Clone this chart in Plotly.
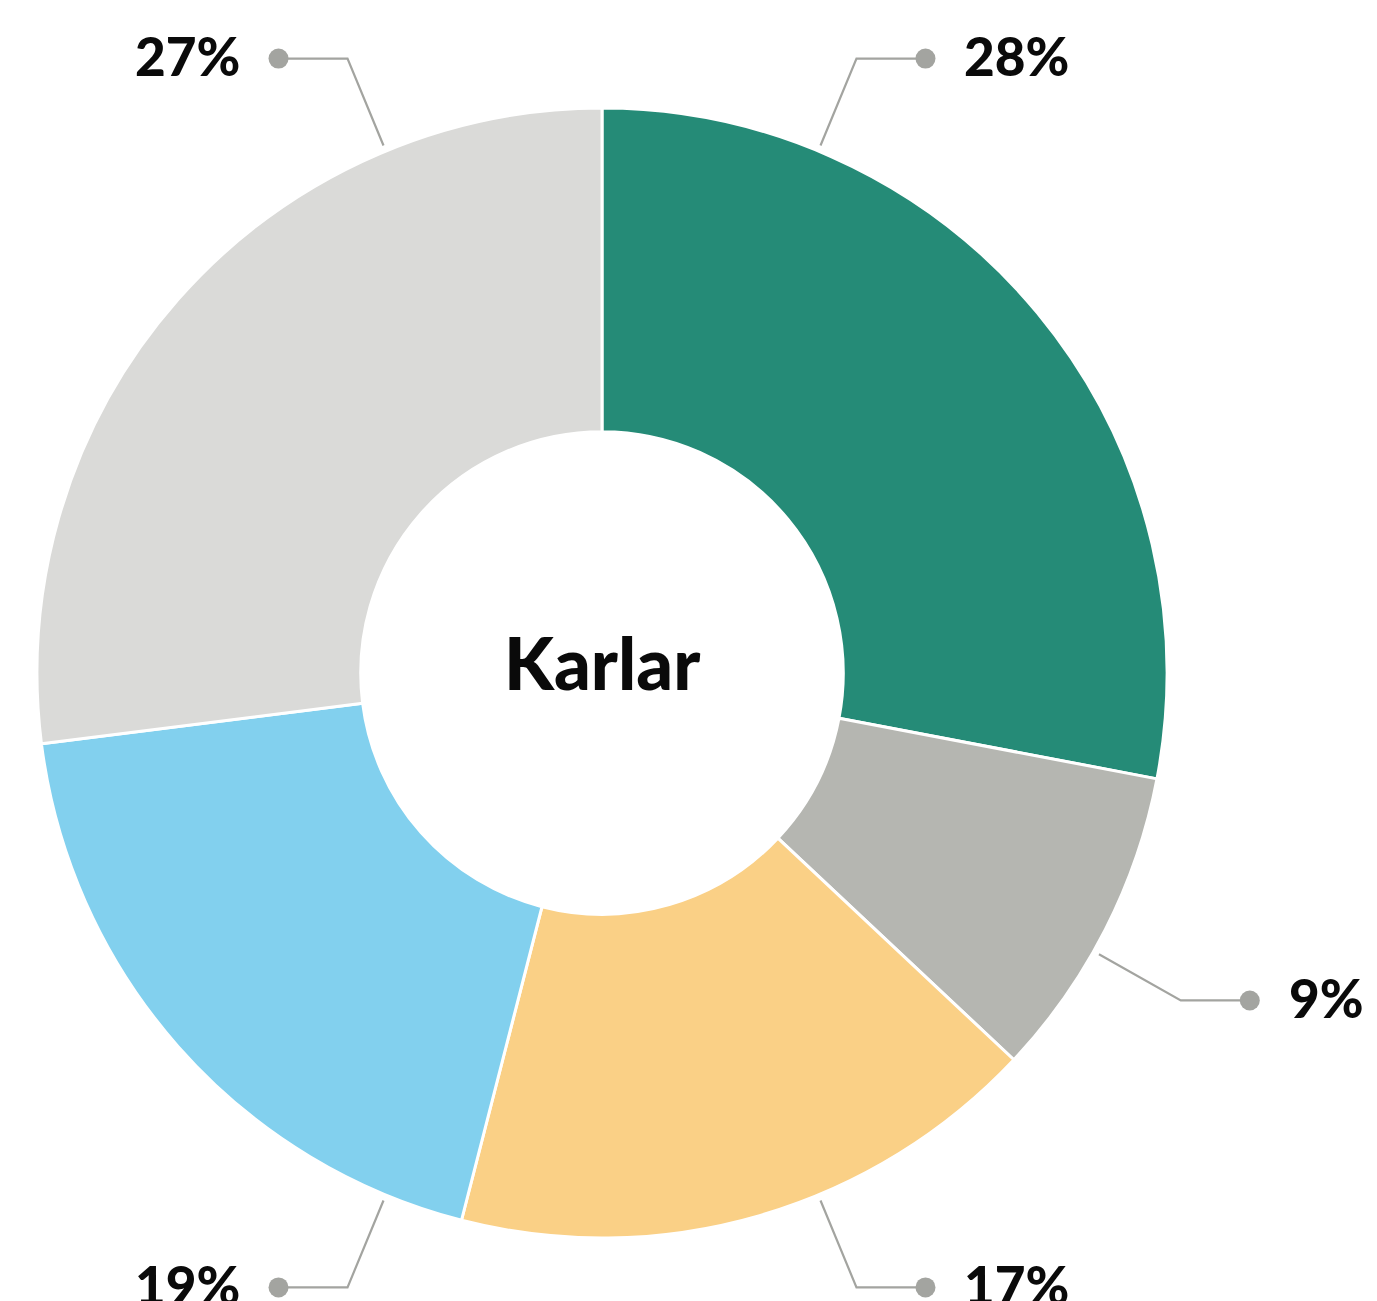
import math
import plotly.graph_objects as go

# ---- data ----
categories = ["A", "B", "C", "D", "E"]
values = [28, 9, 17, 19, 27]
value_labels = ["28%", "9%", "17%", "19%", "27%"]
center_label = "Karlar"

# ---- style ----
colors = ["#258B77", "#B5B6B1", "#FAD086", "#82D0EE", "#DADAD8"]
leader_angles = [22.5, 119.5, 157.5, 202.5, 337.5]  # degrees clockwise from 12 o'clock
W, H = 1377, 1301
CX, CY, R = 602, 673, 565
R0, R1, HLEN, GAP = 571, 665, 69, 37
FONT = "Lato"

fig = go.Figure()
fig.add_trace(go.Pie(
    labels=categories, values=values, sort=False, direction="clockwise",
    rotation=0, hole=0.427, textinfo="none", hoverinfo="label+percent",
    marker=dict(colors=colors, line=dict(color="white", width=3)),
    domain=dict(x=[(CX - R) / W, (CX + R) / W], y=[(H - CY - R) / H, (H - CY + R) / H]),
    showlegend=False,
))

annotations = [dict(x=CX, y=CY, xref="x", yref="y", text=center_label, showarrow=False, yshift=11,
                    font=dict(family=FONT, size=72, color="#0a0a0a", weight=900))]
for ang, lab in zip(leader_angles, value_labels):
    a = math.radians(ang)
    sx, sy = CX + R0 * math.sin(a), CY - R0 * math.cos(a)
    ex, ey = CX + R1 * math.sin(a), CY - R1 * math.cos(a)
    side = 1 if math.sin(a) > 0 else -1
    dx = ex + side * HLEN
    fig.add_trace(go.Scatter(x=[sx, ex, dx], y=[sy, ey, ey], mode="lines",
                             line=dict(color="#A3A4A0", width=2.2), hoverinfo="skip", showlegend=False))
    fig.add_trace(go.Scatter(x=[dx], y=[ey], mode="markers",
                             marker=dict(color="#A3A4A0", size=20), hoverinfo="skip", showlegend=False))
    annotations.append(dict(x=dx + side * GAP, y=ey, xref="x", yref="y", text=lab, showarrow=False,
                            xanchor="left" if side > 0 else "right", yanchor="middle", yshift=3,
                            font=dict(family=FONT, size=53, color="#0a0a0a", weight=900)))

fig.update_layout(
    width=W, height=H, margin=dict(l=0, r=0, t=0, b=0),
    paper_bgcolor="white", plot_bgcolor="rgba(0,0,0,0)",
    xaxis=dict(range=[0, W], visible=False, fixedrange=True),
    yaxis=dict(range=[H, 0], visible=False, fixedrange=True),
    annotations=annotations,
)
fig.write_html("out.html", config={"displayModeBar": False},
               post_script="document.body.style.margin='0';document.body.style.overflow='hidden';")
